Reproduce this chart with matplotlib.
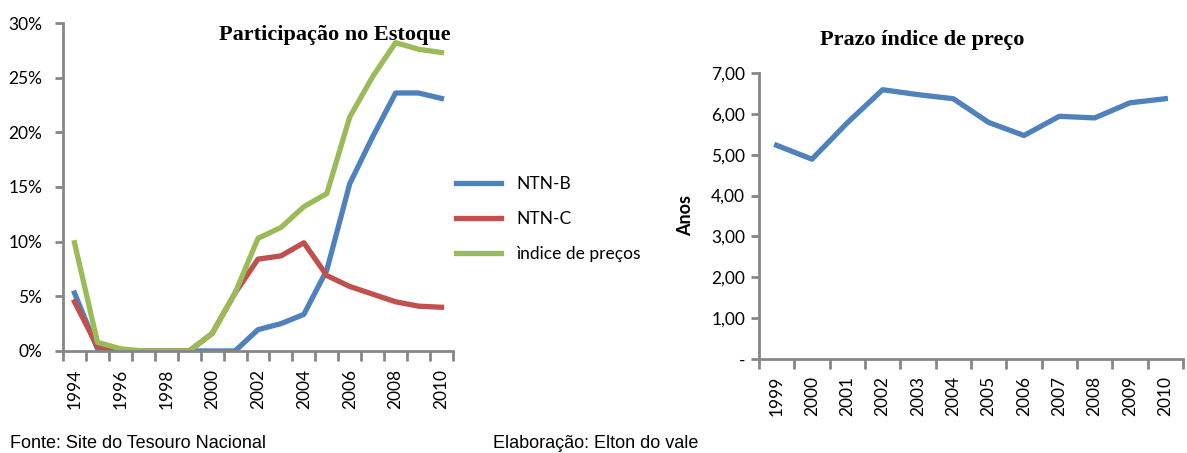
import matplotlib
matplotlib.use("Agg")
import matplotlib.pyplot as plt
from matplotlib.ticker import FuncFormatter

# dados - participação no estoque (%)
anos = list(range(1994, 2011))
ntn_b = [5.3, 0.2, 0.0, 0.0, 0.0, 0.0, 0.0, 0.0, 1.95, 2.5, 3.35, 7.4, 15.3, 19.6, 23.6, 23.6, 23.1]
ntn_c = [4.5, 0.4, 0.0, 0.0, 0.0, 0.0, 1.6, 5.3, 8.4, 8.7, 9.9, 6.9, 5.9, 5.2, 4.5, 4.1, 4.0]
indice_precos = [9.9, 0.8, 0.2, 0.0, 0.0, 0.0, 1.6, 5.3, 10.3, 11.3, 13.2, 14.4, 21.4, 25.1, 28.2, 27.6, 27.3]

# dados - prazo índice de preço (anos)
anos_prazo = list(range(1999, 2011))
prazo = [5.23, 4.89, 5.78, 6.59, 6.47, 6.37, 5.79, 5.47, 5.94, 5.90, 6.27, 6.37]

AZUL = "#4F81BD"
VERMELHO = "#C0504D"
VERDE = "#9BBB59"
CINZA = "#868686"
TICK_FONT = ["Lato", "DejaVu Sans"]
SERIF = ["Liberation Serif", "DejaVu Serif"]
LW = 3.8


def estilo_eixos(ax, pad_x, pad_y):
    """
    Estilo tipo Excel: só eixos esquerdo e inferior, cinza
    """
    for s in ["top", "right"]:
        ax.spines[s].set_visible(False)
    for s in ["left", "bottom"]:
        ax.spines[s].set_color(CINZA)
        ax.spines[s].set_linewidth(2)
    ax.tick_params(axis="y", color=CINZA, width=2, length=6, labelsize=12.5, pad=pad_y)
    ax.tick_params(axis="x", which="major", length=0, labelsize=12.5, rotation=90, pad=pad_x)
    ax.tick_params(axis="x", which="minor", color=CINZA, width=2, length=7)
    for lbl in ax.get_xticklabels() + ax.get_yticklabels():
        lbl.set_family(TICK_FONT)


fig = plt.figure(figsize=(11.87, 4.53), dpi=100)

# gráfico da esquerda
ax1 = fig.add_axes([0.0531, 0.2252, 0.3285, 0.7240])
x = list(range(len(anos)))
ax1.plot(x, ntn_b, color=AZUL, lw=LW, label="NTN-B")
ax1.plot(x, ntn_c, color=VERMELHO, lw=LW, label="NTN-C")
ax1.plot(x, indice_precos, color=VERDE, lw=LW, label="ìndice de preços")
ax1.set_xlim(-0.5, len(anos) - 0.5)
ax1.set_ylim(0, 30)
ax1.set_yticks(range(0, 31, 5))
ax1.yaxis.set_major_formatter(FuncFormatter(lambda v, p: f"{int(v)}%"))
ax1.set_xticks(x[::2])
ax1.set_xticklabels([str(a) for a in anos[::2]])
ax1.set_xticks([i - 0.5 for i in range(len(anos) + 1)], minor=True)
estilo_eixos(ax1, 13, 9)
ax1.text(0.995, 0.995, "Participação no Estoque", transform=ax1.transAxes,
         ha="right", va="top", fontsize=16, fontweight="bold", family=SERIF)

leg = ax1.legend(loc="center left", bbox_to_anchor=(456 / 1187, 1 - 219 / 453),
                 bbox_transform=fig.transFigure, frameon=False, fontsize=12.5,
                 handlelength=2.6, handletextpad=0.9, labelspacing=1.1,
                 borderaxespad=0, borderpad=0)
for t in leg.get_texts():
    t.set_family(TICK_FONT)

# gráfico da direita
ax2 = fig.add_axes([0.6394, 0.2075, 0.3572, 0.6314])
x2 = list(range(len(anos_prazo)))
ax2.plot(x2, prazo, color=AZUL, lw=LW)
ax2.set_xlim(-0.5, len(anos_prazo) - 0.5)
ax2.set_ylim(0, 7)
ax2.set_yticks(range(0, 8))
ax2.yaxis.set_major_formatter(FuncFormatter(lambda v, p: "-" if v == 0 else f"{v:.2f}".replace(".", ",")))
ax2.set_xticks(x2)
ax2.set_xticklabels([str(a) for a in anos_prazo])
ax2.set_xticks([i - 0.5 for i in range(len(anos_prazo) + 1)], minor=True)
estilo_eixos(ax2, 12, 4)
ax2.set_ylabel("Anos", fontsize=13, fontweight="bold", family=TICK_FONT, labelpad=12)
fig.text(922 / 1187, 1 - 40 / 453, "Prazo índice de preço", ha="center", va="center",
         fontsize=16, fontweight="bold", family=SERIF)

# rodapé
RODAPE = ["Liberation Sans Narrow", "Liberation Sans", "DejaVu Sans"]
fig.text(10 / 1187, 1 - 443 / 453, "Fonte: Site do Tesouro Nacional", ha="left", va="center",
         fontsize=13, family=RODAPE)
fig.text(493 / 1187, 1 - 443 / 453, "Elaboração: Elton do vale", ha="left", va="center",
         fontsize=13, family=RODAPE)

fig.savefig("out.png", dpi=100)
